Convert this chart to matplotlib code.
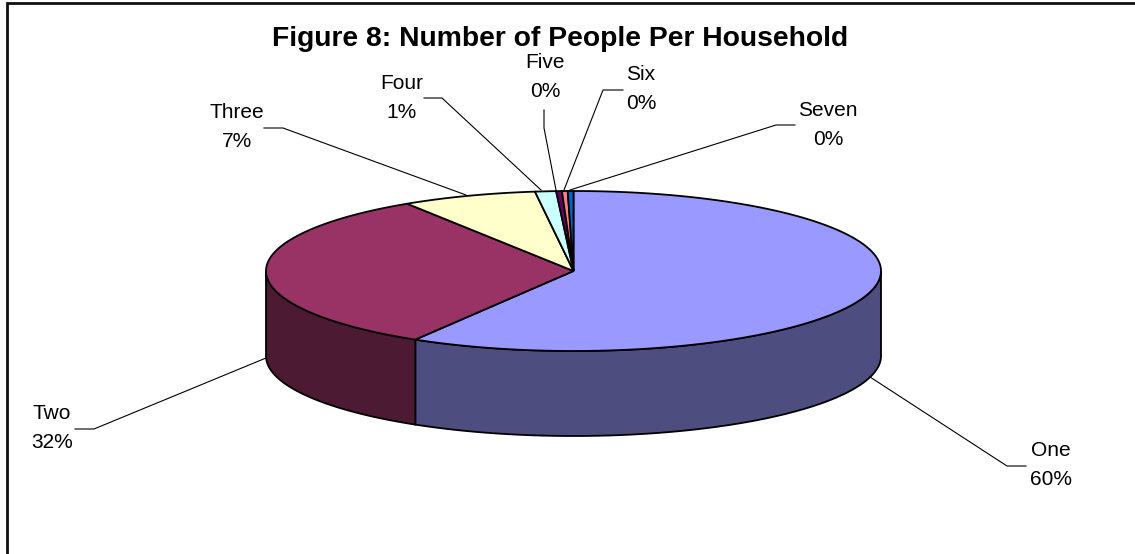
import numpy as np
import matplotlib
matplotlib.use('Agg')
import matplotlib.pyplot as plt

# data
categories = ['One', 'Two', 'Three', 'Four', 'Five', 'Six', 'Seven']
percent_labels = ['60%', '32%', '7%', '1%', '0%', '0%', '0%']
# shares as drawn in the picture (the 3D view squeezes them a little)
shares = [58.6, 32.3, 7.1, 1.1, 0.3, 0.3, 0.3]
top_colors = ['#9999FF', '#993366', '#FFFFCC', '#CCFFFF', '#660066', '#FF8080', '#0066CC']
title = 'Figure 8: Number of People Per Household'

# label centres and leader lines, in pixels
label_pos = [(1051, 465), (52, 428), (237, 127), (402, 98), (545, 77), (641, 89), (828, 125)]
leaders = [
    [(870, 377), (1007, 466), (1026, 466)],
    [(266, 358), (94, 429), (75, 429)],
    [(466, 195), (283, 128), (264, 128)],
    [(541, 190), (442, 98), (424, 98)],
    [(556, 190), (544, 128), (544, 110)],
    [(564, 190), (603, 90), (623, 90)],
    [(570, 190), (776, 125), (795, 125)],
]

# pie geometry in pixels
cx, cy = 573.5, 271
rx, ry = 307.5, 80
depth = 85

plt.rcParams['font.family'] = ['Liberation Sans', 'DejaVu Sans']

fig = plt.figure(figsize=(11.35, 5.54), dpi=100)
ax = fig.add_axes([0, 0, 1, 1])
ax.set_xlim(0, 1135)
ax.set_ylim(554, 0)
ax.axis('off')


def rim(a, b):
    t = np.radians(np.linspace(a, b, max(int(abs(b - a) * 3), 2)))
    return cx + rx * np.sin(t), cy - ry * np.cos(t)


# chart border, only left and top show up in the crop
ax.plot([7, 7, 1135], [554, 2.5, 2.5], color='#111111', lw=2, solid_joinstyle='miter')

edges = np.cumsum([0] + shares) / sum(shares) * 360

# side walls, only the front half is visible
for i, col in enumerate(top_colors):
    a, b = max(edges[i], 90), min(edges[i + 1], 270)
    if a >= b:
        continue
    x, y = rim(a, b)
    xs = np.concatenate([x, x[::-1]])
    ys = np.concatenate([y, y[::-1] + depth])
    dark = tuple(c * 0.5 for c in matplotlib.colors.to_rgb(col))
    ax.fill(xs, ys, facecolor=dark, edgecolor='black', lw=1.3, zorder=2)

# top face
for i, col in enumerate(top_colors):
    x, y = rim(edges[i], edges[i + 1])
    ax.fill(np.r_[cx, x], np.r_[cy, y], facecolor=col, edgecolor='black', lw=1.3, zorder=3)

# leaders and labels
for pts in leaders:
    px, py = zip(*pts)
    ax.plot(px, py, color='black', lw=0.8, zorder=4)

for name, pct, (lx, ly) in zip(categories, percent_labels, label_pos):
    ax.text(lx, ly, name + '\n' + pct, ha='center', va='center', fontsize=15,
            linespacing=1.7, color='black')

ax.text(560.5, 39, title, ha='center', va='center', fontsize=20.3, fontweight='bold', color='black')

fig.savefig('out.png', dpi=100)
